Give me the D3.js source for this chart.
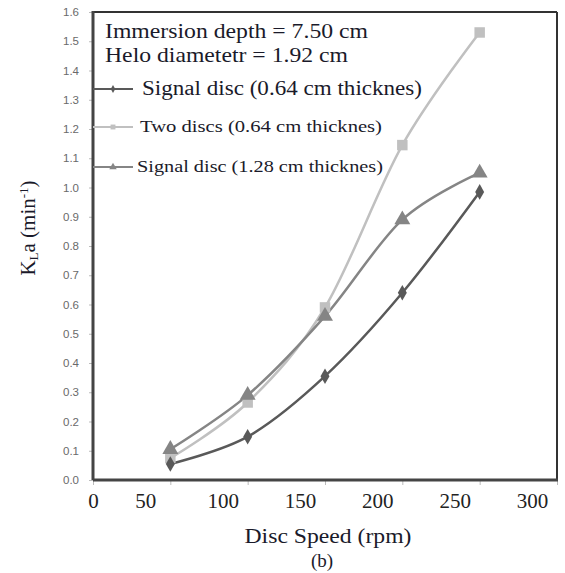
<!DOCTYPE html>
<html>
<head>
<meta charset="utf-8">
<script src="https://cdn.jsdelivr.net/npm/d3@7"></script>
<style>
  body { margin: 0; background: #fff; }
  svg { display: block; }
</style>
</head>
<body>
<div id="chart-area"></div>
<script>
// data
const speeds = [50, 100, 150, 200, 250];
const singleThin = [0.055, 0.148, 0.355, 0.64, 0.985];
const twoDiscs = [0.075, 0.265, 0.59, 1.145, 1.53];
const singleThick = [0.105, 0.29, 0.56, 0.89, 1.05];
const seriesNames = ["Signal disc (0.64 cm thicknes)", "Two discs (0.64 cm thicknes)", "Signal disc (1.28 cm thicknes)"];
const xTicks = [0, 50, 100, 150, 200, 250, 300];
const yTicks = [0, 0.1, 0.2, 0.3, 0.4, 0.5, 0.6, 0.7, 0.8, 0.9, 1.0, 1.1, 1.2, 1.3, 1.4, 1.5, 1.6];

let margin = {top: 12, right: 8, bottom: 93, left: 93},
    W = 565, H = 573,
    width = W - margin.left - margin.right,
    height = H - margin.top - margin.bottom;

const svg = d3.select("#chart-area").append("svg")
    .attr("width", W)
    .attr("height", H)

const g = svg.append("g")
    .attr("transform", `translate(${margin.left}, ${margin.top})`)

const x = d3.scaleLinear().domain([0, 300]).range([0, width])
const y = d3.scaleLinear().domain([0, 1.6]).range([height, 0])

const serif = "Liberation Serif, Times New Roman, serif"

// y axis
const yAxis = g.append("g")
    .call(d3.axisLeft(y).tickValues(yTicks).tickSize(4).tickFormat(d3.format(".1f")))
yAxis.select(".domain").remove()
yAxis.selectAll("line").attr("stroke", "#bbb")
yAxis.selectAll("text")
    .attr("font-family", "Liberation Sans, Arial, sans-serif")
    .attr("font-size", "11.5px")
    .attr("fill", "#6a6a6a")
    .attr("x", -14)

// x axis
const xAxis = g.append("g")
    .attr("transform", `translate(0, ${height})`)
    .call(d3.axisBottom(x).tickValues(xTicks).tickSize(5))
xAxis.select(".domain").remove()
xAxis.selectAll("line").attr("stroke", "#bbb")
xAxis.selectAll("text")
    .attr("font-family", serif)
    .attr("font-size", "21px")
    .attr("fill", "#222")
    .attr("y", 28)
    .attr("dy", 0)
    .attr("dx", d => d === 0 ? 0 : -25)

// frame
g.append("line").attr("x1", 0).attr("x2", width).attr("y1", 0).attr("y2", 0)
    .attr("stroke", "#333").attr("stroke-width", 2)
g.append("line").attr("x1", width).attr("x2", width).attr("y1", 0).attr("y2", height)
    .attr("stroke", "#333").attr("stroke-width", 2)
g.append("line").attr("x1", 0).attr("x2", 0).attr("y1", -1).attr("y2", height)
    .attr("stroke", "#444").attr("stroke-width", 3)
g.append("line").attr("x1", 0).attr("x2", width + 1).attr("y1", height).attr("y2", height)
    .attr("stroke", "#444").attr("stroke-width", 3)

// series
const series = [
    {name: seriesNames[0], values: singleThin, color: "#595959", symbol: d3.symbolDiamond, size: 70, legSize: 18},
    {name: seriesNames[1], values: twoDiscs, color: "#c0c0c0", symbol: d3.symbolSquare, size: 110, legSize: 24},
    {name: seriesNames[2], values: singleThick, color: "#858585", symbol: d3.symbolTriangle, size: 110, legSize: 24}
]

const line = d3.line()
    .x((d, i) => x(speeds[i]))
    .y(d => y(d))
    .curve(d3.curveCardinal.tension(0))

// draw light series first so the darker ones sit on top
const order = [1, 2, 0]
order.forEach(k => {
    const s = series[k]
    g.append("path")
        .datum(s.values)
        .attr("fill", "none")
        .attr("stroke", s.color)
        .attr("stroke-width", 2.5)
        .attr("d", line)
})
order.forEach(k => {
    const s = series[k]
    g.selectAll(".m" + k).data(s.values).enter()
        .append("path")
        .attr("class", "m" + k)
        .attr("transform", (d, i) => `translate(${x(speeds[i])}, ${y(d)})`)
        .attr("d", d3.symbol().type(s.symbol).size(s.size))
        .attr("fill", s.color)
})

// header text
g.append("text").attr("x", 12).attr("y", 26)
    .attr("font-family", serif).attr("font-size", "21px").attr("fill", "#1a1a2a")
    .attr("textLength", 263).attr("lengthAdjust", "spacingAndGlyphs")
    .text("Immersion depth = 7.50 cm")
g.append("text").attr("x", 12).attr("y", 50)
    .attr("font-family", serif).attr("font-size", "21px").attr("fill", "#1a1a2a")
    .attr("textLength", 243).attr("lengthAdjust", "spacingAndGlyphs")
    .text("Helo diametetr = 1.92 cm")

// legend
const legY = [77, 115, 155]
const legX = [49, 47, 44]
const legFont = [20, 16.5, 16.5]
const legLen = [280, 242, 246]
series.forEach((s, i) => {
    const lg = g.append("g").attr("transform", `translate(0, ${legY[i]})`)
    lg.append("line").attr("x1", 0).attr("x2", 40).attr("y1", 0).attr("y2", 0)
        .attr("stroke", s.color).attr("stroke-width", 2)
    lg.append("path").attr("transform", "translate(20, 0)")
        .attr("d", d3.symbol().type(s.symbol).size(s.legSize))
        .attr("fill", s.color)
    lg.append("text").attr("x", legX[i]).attr("y", 0).attr("dy", "0.32em")
        .attr("font-family", serif).attr("font-size", legFont[i] + "px").attr("fill", "#1a1a2a")
        .attr("textLength", legLen[i]).attr("lengthAdjust", "spacingAndGlyphs")
        .text(s.name)
})

// axis titles
svg.append("text").attr("x", 328).attr("y", 543)
    .attr("text-anchor", "middle")
    .attr("font-family", serif).attr("font-size", "20px").attr("fill", "#1a1a2a")
    .attr("textLength", 167).attr("lengthAdjust", "spacingAndGlyphs")
    .text("Disc Speed (rpm)")
svg.append("text").attr("x", 322).attr("y", 567)
    .attr("text-anchor", "middle")
    .attr("font-family", serif).attr("font-size", "19px").attr("fill", "#1a1a2a")
    .text("(b)")

const yTitle = svg.append("text")
    .attr("transform", "translate(35, 228) rotate(-90)")
    .attr("text-anchor", "middle")
    .attr("font-family", serif).attr("font-size", "21px").attr("fill", "#1a1a2a")
yTitle.append("tspan").text("K")
yTitle.append("tspan").attr("font-size", "13px").attr("dy", 3).text("L")
yTitle.append("tspan").attr("dy", -3).text("a (min")
yTitle.append("tspan").attr("font-size", "13px").attr("dy", -7).text("-1")
yTitle.append("tspan").attr("dy", 7).text(")")
</script>
</body>
</html>
